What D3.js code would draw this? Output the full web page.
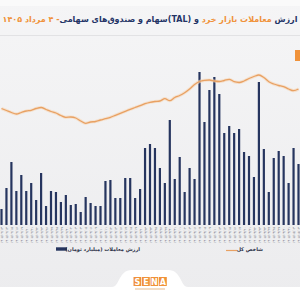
<!DOCTYPE html>
<html><head><meta charset="utf-8">
<script src="https://cdn.jsdelivr.net/npm/d3@7/dist/d3.min.js"></script>
<style>
html,body{margin:0;padding:0;width:300px;height:300px;overflow:hidden;background:#f0f0f2;}
#wrap{position:relative;width:300px;height:300px;overflow:hidden;}
#title{position:absolute;top:15px;left:0;width:300px;text-align:center;white-space:nowrap;direction:rtl;
font-family:"DejaVu Sans",sans-serif;font-weight:bold;font-size:8.6px;color:#243466;}
#title span.inner{display:inline-block;}
#title .o{color:#f0923a;}
svg{position:absolute;left:0;top:0;}
</style></head>
<body><div id="wrap"><svg id="chart" width="300" height="300"></svg><div id="title"><span class="inner"></span></div></div>
<script>
const dates = ["1405/02/13","1405/02/14","1405/02/15","1405/02/16","1405/02/19","1405/02/20","1405/02/21","1405/02/22","1405/02/23","1405/02/26",
"1405/02/27","1405/02/28","1405/02/29","1405/02/30","1405/03/02","1405/03/03","1405/03/04","1405/03/05","1405/03/06","1405/03/09",
"1405/03/10","1405/03/11","1405/03/12","1405/03/13","1405/03/16","1405/03/17","1405/03/18","1405/03/19","1405/03/20","1405/03/23",
"1405/03/24","1405/03/25","1405/03/26","1405/03/27","1405/03/30","1405/03/31","1405/04/01","1405/04/02","1405/04/03","1405/04/06",
"1405/04/07","1405/04/08","1405/04/09","1405/04/10","1405/04/13","1405/04/14","1405/04/15","1405/04/16","1405/04/17","1405/04/20",
"1405/04/21","1405/04/22","1405/04/23","1405/04/24","1405/04/27","1405/04/28","1405/04/29","1405/04/30","1405/04/31","1405/05/03","1405/05/04"];
const tradeValue = [1600,3700,6300,3400,5000,3400,4200,2500,5200,1900,
3400,3300,2300,3000,2000,2100,1300,2800,2200,1900,
1900,4400,4500,2700,2700,4700,4700,2700,3600,7700,
8100,7700,5700,4200,10500,4600,6800,3300,5700,4600,
15300,10300,13500,14800,13100,9200,9900,9200,9600,7300,
6900,4800,14300,7600,3300,6700,7400,6900,4200,7700,6100];
const indexValue = [2755000,2735000,2715000,2700000,2715000,2730000,2737000,2755000,2765000,2745000,
2725000,2710000,2685000,2667000,2670000,2660000,2630000,2607000,2620000,2625000,
2640000,2653000,2667000,2687000,2707000,2727000,2747000,2765000,2783000,2803000,
2817000,2825000,2830000,2853000,2833000,2865000,2885000,2913000,2950000,2995000,
3025000,3037000,3040000,3030000,3025000,3035000,3047000,3023000,3015000,3030000,
3055000,3075000,3090000,3065000,3023000,3000000,2985000,2973000,2950000,2933000,2950000];
const legendBar = "ارزش معاملات (میلیارد تومان)";
const legendLine = "شاخص کل";
const titleParts = [["ارزش ",""],["معاملات بازار خرد ","o"],["و (TAL)سهام و صندوق‌های سهامی",""],["- ۴ مرداد ۱۴۰۵","o"]];

const fa = s => s.replace(/\d/g, d => "۰۱۲۳۴۵۶۷۸۹"[d]);
const svg = d3.select("#chart");
const defs = svg.append("defs");
const bg = defs.append("linearGradient").attr("id","bg").attr("x1",0).attr("y1",0).attr("x2",0).attr("y2",1);
bg.append("stop").attr("offset",0).attr("stop-color","#f5f5f6");
bg.append("stop").attr("offset",1).attr("stop-color","#ececee");
svg.append("rect").attr("width",300).attr("height",300).attr("fill","url(#bg)");
svg.append("rect").attr("width",300).attr("height",6).attr("fill","#fafafa");
svg.append("line").attr("x1",0).attr("x2",300).attr("y1",35.5).attr("y2",35.5).attr("stroke","#e2e2e4").attr("stroke-width",1);

// bottom white area with tab
svg.append("path").attr("d","M0,287 L112,287 C120,287 118,270 132,270 L168,270 C182,270 180,287 188,287 L300,287 L300,300 L0,300 Z").attr("fill","#ffffff");

const x = d3.scalePoint().domain(dates).range([1.5, 298.5]);
const yBar = d3.scaleLinear().domain([0,16000]).range([225,65]);
const yIdx = d3.scaleLinear().domain([2600000,3200000]).range([124,64]);

svg.append("g").selectAll("rect").data(dates).join("rect")
  .attr("x", d => x(d) - 1.1).attr("width", 2.2)
  .attr("y", (d,i) => yBar(tradeValue[i]))
  .attr("height", (d,i) => yBar(0) - yBar(tradeValue[i]))
  .attr("fill", "#26355f");

const line = d3.line().x((d,i) => x(dates[i])).y(d => yIdx(d)).curve(d3.curveMonotoneX);
svg.append("path").datum(indexValue).attr("d", line).attr("fill","none")
  .attr("stroke","#f7d6b5").attr("stroke-width",3.2).attr("opacity",0.6);
svg.append("path").datum(indexValue).attr("d", line).attr("fill","none")
  .attr("stroke","#e8a163").attr("stroke-width",1.3);

// x axis labels
const xAxis = d3.axisBottom(x).tickSize(0).tickFormat(d => fa(d));
const ax = svg.append("g").attr("transform","translate(0,226)").call(xAxis);
ax.select(".domain").remove();
ax.selectAll("text").attr("transform","rotate(-90)").attr("text-anchor","end")
  .attr("x",-1).attr("dx",0).attr("y",0).attr("dy","0.35em")
  .attr("font-size",3.3).attr("font-family","DejaVu Sans").attr("fill","#6b6f7a");

// legend
const lg = svg.append("g").attr("font-family","DejaVu Sans").attr("font-weight","bold").attr("font-size",5).attr("fill","#2a2f45");
lg.append("rect").attr("x",56).attr("y",247.3).attr("width",11).attr("height",3.4).attr("fill","#26355f");
lg.append("text").attr("x",140).attr("y",251).attr("text-anchor","start").attr("direction","rtl").text(legendBar);
lg.append("line").attr("x1",226).attr("x2",237).attr("y1",250.5).attr("y2",250.5).attr("stroke","#e8a163").attr("stroke-width",1.2);
lg.append("text").attr("x",263).attr("y",251).attr("text-anchor","start").attr("direction","rtl").text(legendLine);

// orange mark at right
svg.append("rect").attr("x",295).attr("y",50).attr("width",5).attr("height",11).attr("fill","#f0923a");

// logo
const letters = ["S","E","N","A"];
const logo = svg.append("g");
letters.forEach((l,i) => {
  logo.append("rect").attr("x",133.5 + i*8.5).attr("y",277).attr("width",7.8).attr("height",9).attr("fill","#f0923a");
  logo.append("text").attr("x",137.4 + i*8.5).attr("y",285).attr("text-anchor","middle").attr("font-family","DejaVu Sans")
    .attr("font-weight","bold").attr("font-size",8).attr("fill","#ffffff").text(l);
});
logo.append("rect").attr("x",135).attr("y",288.5).attr("width",30).attr("height",1).attr("fill","#e8b98a");

// title
const tin = d3.select("#title .inner");
titleParts.forEach(p => tin.append("span").attr("class",p[1]).text(p[0]));
let fs = 8.6;
const tdiv = document.getElementById("title");
while (tin.node().getBoundingClientRect().width > 298 && fs > 5) { fs -= 0.1; tdiv.style.fontSize = fs + "px"; }
</script></body></html>
